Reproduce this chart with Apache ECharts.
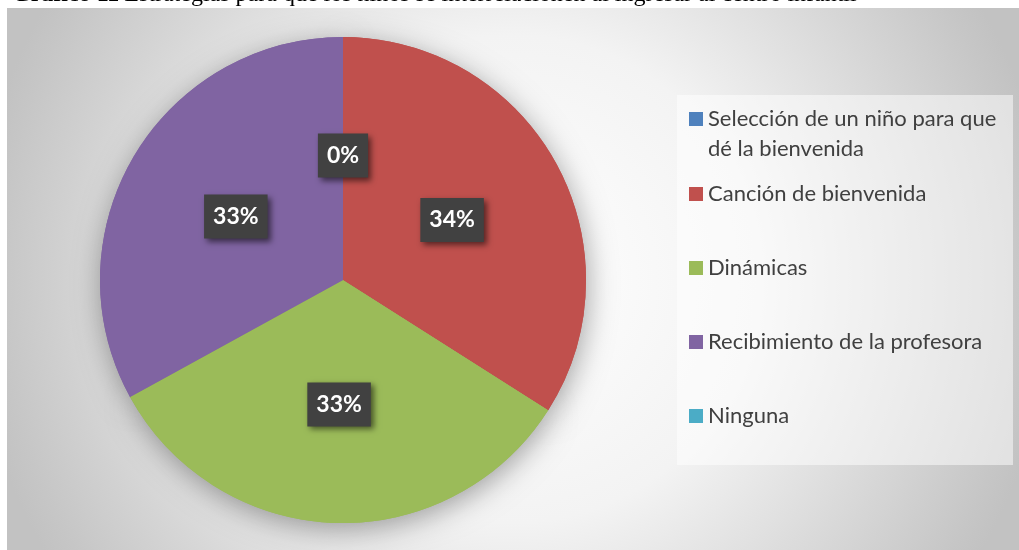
<!DOCTYPE html>
<html><head><meta charset="utf-8">
<script src="https://cdn.jsdelivr.net/npm/echarts@6/dist/echarts.min.js"></script>
<style>html,body{margin:0;padding:0;background:#fff;}#c{width:1019px;height:550px;}</style>
</head><body><div id="c"></div>
<script>
const categories = ['Selección de un niño para que dé la bienvenida', 'Canción de bienvenida', 'Dinámicas', 'Recibimiento de la profesora', 'Ninguna'];
const values = [0, 34, 33, 33, 0];
const colors = ['#4f81bd', '#c0504d', '#9bbb59', '#8064a2', '#4bacc6'];
const titleBold = 'Gráfico 11';
const titleText = 'Estrategias para que los niños se interrelacionen al ingresar al centro infantil';

const data = categories.map((n, i) => ({ name: n, value: values[i] }));
const chart = echarts.init(document.getElementById('c'), null, { renderer: 'canvas' });
const legendText = { fontFamily: 'Lato', fontSize: 22, color: '#404040', lineHeight: 30 };
const option = {
  animation: false,
  color: colors,
  title: {
    text: '{b|' + titleBold + '} {r|' + titleText + '}',
    left: 12, top: -17, padding: 0,
    textStyle: { fontWeight: 'normal', rich: {
      b: { fontFamily: 'Liberation Serif', fontWeight: 'bold', fontSize: 24, color: '#000' },
      r: { fontFamily: 'Liberation Serif', fontWeight: 'normal', fontSize: 24, color: '#000' }
    } }
  },
  graphic: [
    { type: 'rect', z: -10, silent: true, shape: { x: 7, y: 8, width: 1012, height: 542 },
      style: { fill: { type: 'radial', x: 0.5, y: 0.5, r: 1, colorStops: [
        { offset: 0, color: '#ffffff' }, { offset: 0.45, color: '#f3f3f3' }, { offset: 0.95, color: '#c6c6c6' }, { offset: 1, color: '#c2c2c2' }] } } },
    { type: 'rect', z: -9, silent: true, shape: { x: 677, y: 95, width: 336, height: 370 },
      style: { fill: 'rgba(255,255,255,0.5)' } }
  ],
  legend: [
    { orient: 'vertical', left: 689, top: 74, padding: 0, itemWidth: 14, itemHeight: 14, icon: 'rect',
      selectedMode: false, data: [categories[0]],
      formatter: n => ' \n' + n.replace(' dé', '\ndé'),
      textStyle: legendText },
    { orient: 'vertical', left: 689, top: 179, padding: 0, itemGap: 44, itemWidth: 14, itemHeight: 14, icon: 'rect',
      selectedMode: false, data: categories.slice(1), textStyle: legendText }
  ],
  series: [
    { type: 'pie', z: 1, silent: true, center: [343, 280], radius: 243, startAngle: 90, clockwise: true,
      data: data, label: { show: false }, labelLine: { show: false },
      itemStyle: { shadowBlur: 28, shadowColor: 'rgba(0,0,0,0.35)', shadowOffsetY: 6, shadowOffsetX: 2 } },
    { type: 'pie', z: 2, silent: true, center: [343, 280], radius: 243, startAngle: 90, clockwise: true,
      data: data, labelLine: { show: false },
      label: { show: true, position: 'inner', formatter: '{d}%', color: '#fff', fontFamily: 'Lato', fontWeight: 'bold',
        fontSize: 23, lineHeight: 28, padding: [8, 9], backgroundColor: '#414141',
        shadowColor: 'rgba(0,0,0,0.55)', shadowBlur: 6, shadowOffsetX: 3, shadowOffsetY: 3 } }
  ]
};
chart.setOption(option);
</script></body></html>
